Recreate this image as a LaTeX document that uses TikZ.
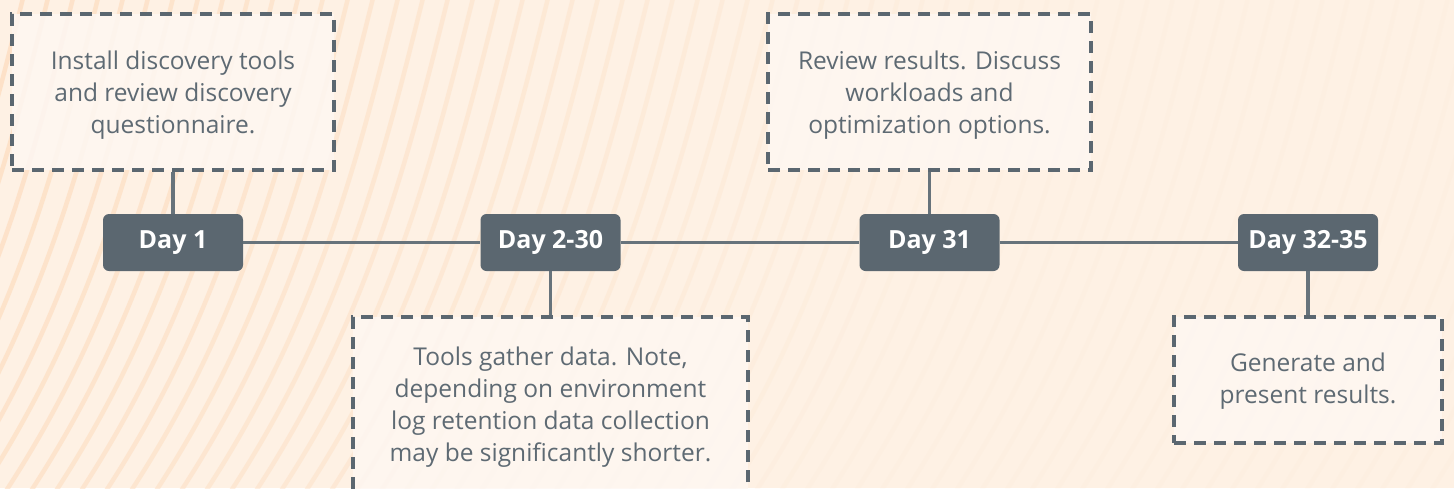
\documentclass[tikz,border=0pt]{standalone}
\usepackage{fontspec}
\setmainfont{Open Sans}
\definecolor{bg}{HTML}{FEF1E4}
\definecolor{stripe}{HTML}{FDDCBE}
\definecolor{daybox}{HTML}{5B6770}
\definecolor{txt}{HTML}{5E6A73}
\definecolor{conn}{HTML}{67737B}
\definecolor{notefill}{HTML}{FEF7F2}
\tikzset{
  daynode/.style={fill=daybox, rounded corners=6pt, minimum width=140pt, minimum height=57pt, inner sep=0pt, text=white, font=\fontsize{25}{30}\selectfont\bfseries},
  notebox/.style={draw=daybox, line width=3.2pt, dash pattern=on 12pt off 8pt, fill=notefill, fill opacity=0.85, draw opacity=1, inner sep=0pt},
  notetext/.style={text=txt, align=center, font=\fontsize{24.5}{32}\selectfont, inner sep=0pt},
  link/.style={draw=conn, line width=3.2pt}
}
\begin{document}
\begin{tikzpicture}[x=1pt,y=-1pt]
\useasboundingbox (0,0) rectangle (1454,488);
\clip (0,0) rectangle (1454,488);
\fill[bg] (0,0) rectangle (1454,488);
\foreach \i in {-24,...,62}{
  \pgfmathsetmacro{\xx}{\i*25}
  \pgfmathsetmacro{\op}{max(0.06,0.6-\xx/1500)}
  \draw[stripe, line width=4.5pt, opacity=\op] (\xx,500) .. controls (\xx+120,320) and (\xx+160,150) .. (\xx+200,-10);
}
% note boxes
\node[notebox, minimum width=322pt, minimum height=156pt] (n1) at (173,92) {};
\node[notebox, minimum width=323pt, minimum height=156pt] (n3) at (929.5,92) {};
\node[notebox, minimum width=268pt, minimum height=126pt] (n4) at (1308,380) {};
\node[notebox, minimum width=395pt, minimum height=190pt] (n2) at (550.5,412) {};
% texts
\node[notetext] (t1) at (173,95) {Install discovery tools\\and review discovery\\questionnaire.};
\node[notetext] (t3) at (929.5,95) {Review results. Discuss\\workloads and\\optimization options.};
\node[notetext] (t4) at (1308,381) {Generate and\\present results.};
\node[notetext] (t2) at (550.5,407) {Tools gather data. Note,\\depending on environment\\log retention data collection\\may be significantly shorter.};
% day boxes
\node[daynode] (d1) at (173,242.5) {Day 1};
\node[daynode] (d2) at (550.5,242.5) {Day 2-30};
\node[daynode] (d3) at (929.5,242.5) {Day 31};
\node[daynode] (d4) at (1308,242.5) {Day 32-35};
% connectors
\draw[link] (d1.east) -- (d2.west);
\draw[link] (d2.east) -- (d3.west);
\draw[link] (d3.east) -- (d4.west);
\draw[link] (n1.south) -- (d1.north);
\draw[link] (n3.south) -- (d3.north);
\draw[link] (d2.south) -- (d2.south |- n2.north);
\draw[link] (d4.south) -- (d4.south |- n4.north);
\end{tikzpicture}
\end{document}
